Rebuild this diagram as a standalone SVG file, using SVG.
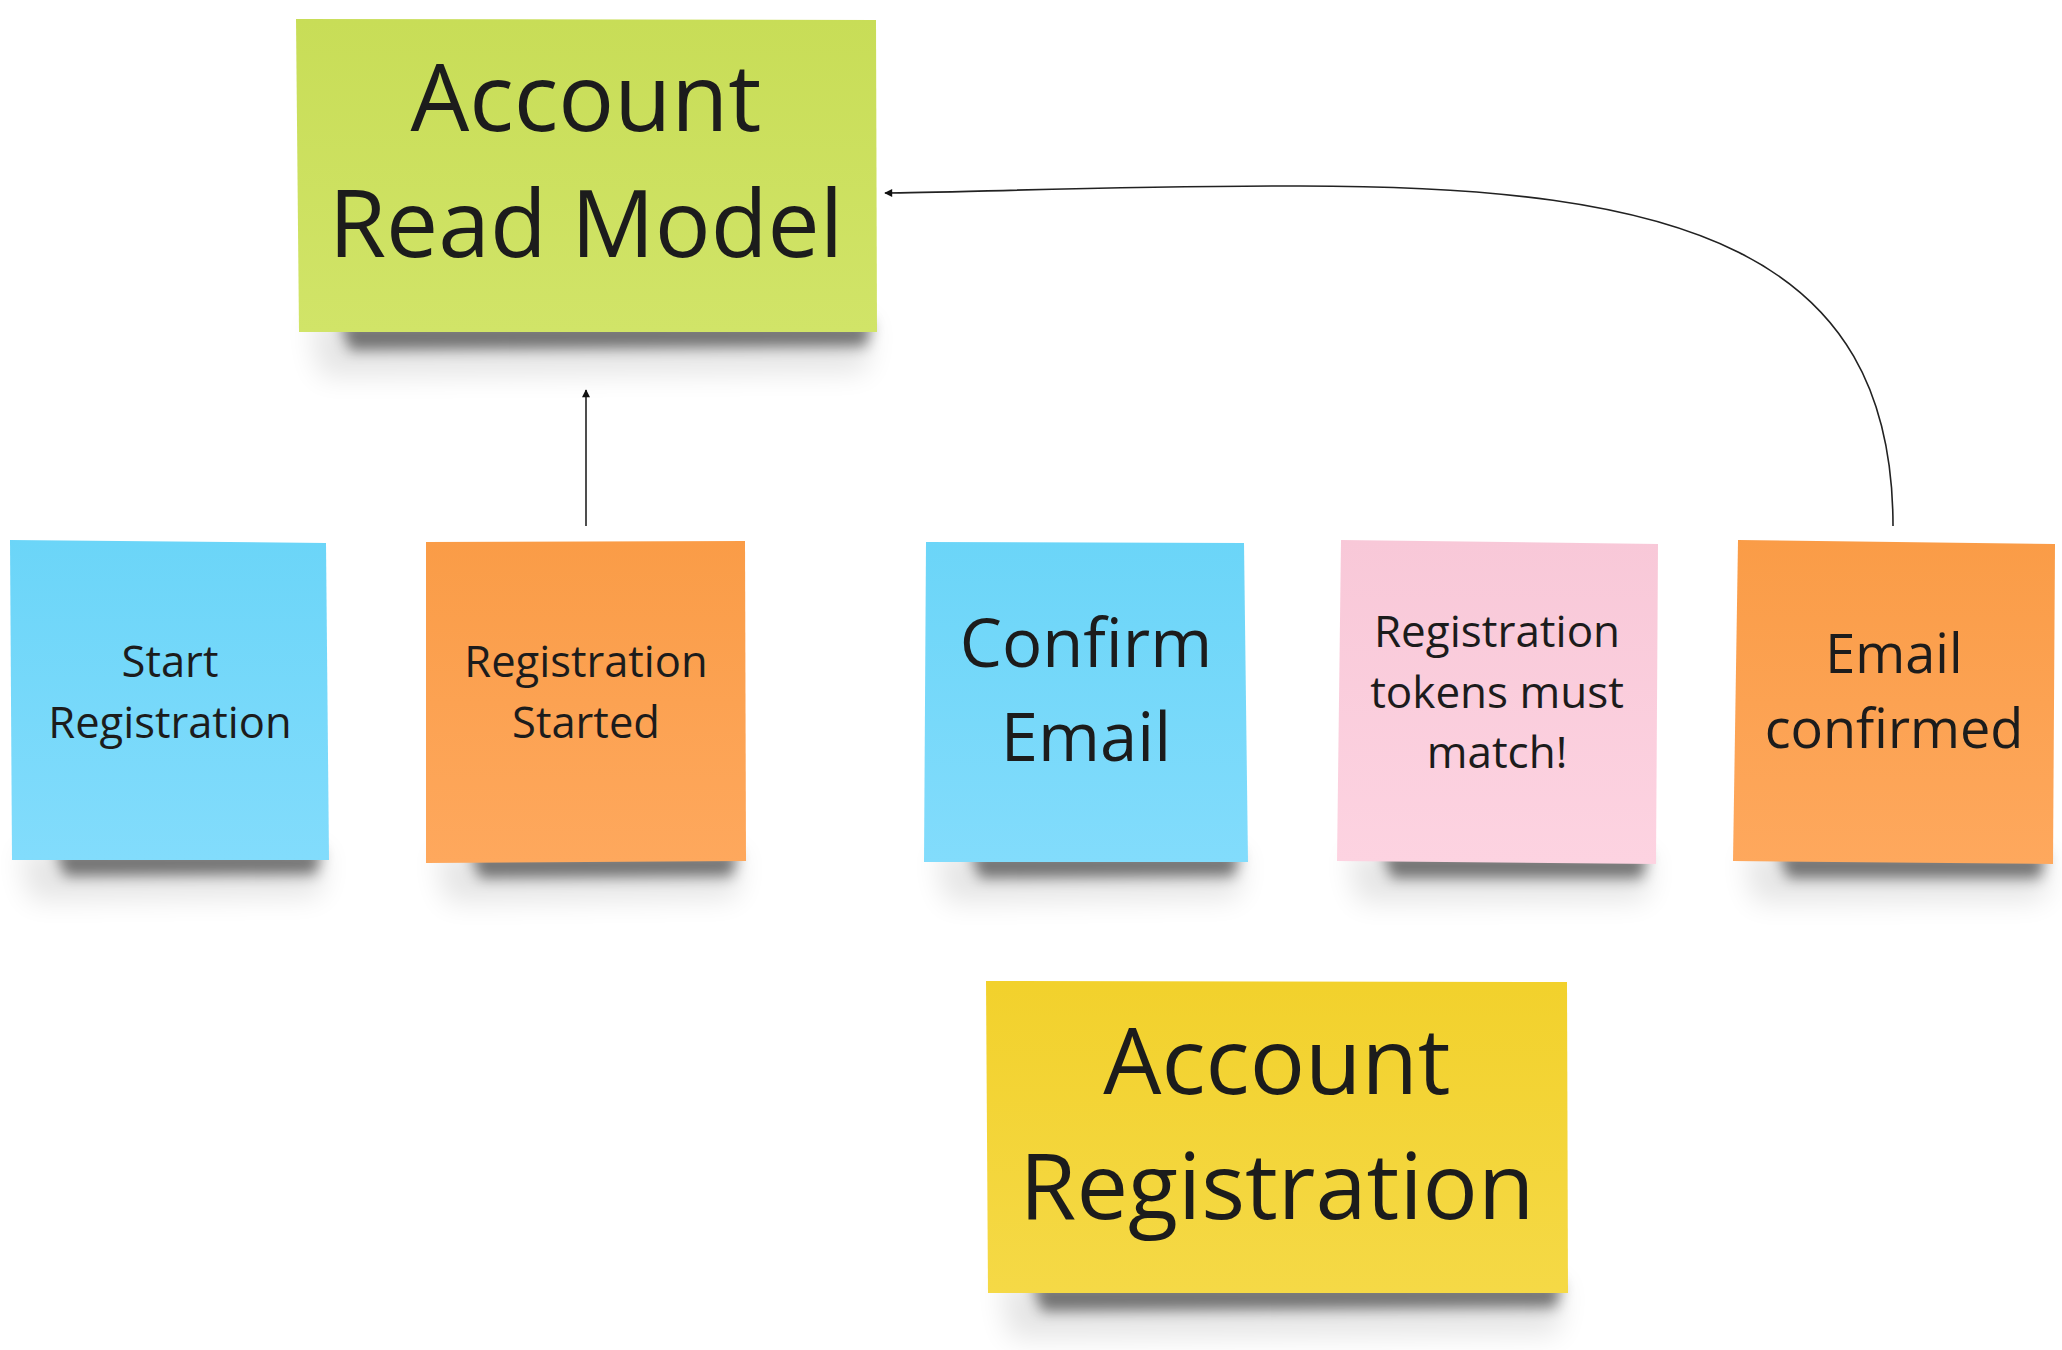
<svg xmlns="http://www.w3.org/2000/svg" width="2062" height="1350" viewBox="0 0 2062 1350">
<style>
  text { font-family: "Open Sans", "Noto Sans", "Liberation Sans", sans-serif; fill: #1c1c1c; text-anchor: middle; }
  .shadow { fill: #000; opacity: 0.5; filter: url(#blur); }
  .halo { fill: #000; opacity: 0.10; filter: url(#blur2); }
  .conn { fill: none; stroke: #222; stroke-width: 1.6; }
</style>
<defs>
  <filter id="blur" x="-20%" y="-200%" width="140%" height="500%"><feGaussianBlur stdDeviation="7"/></filter>
  <filter id="blur2" x="-20%" y="-200%" width="140%" height="500%"><feGaussianBlur stdDeviation="14"/></filter>
  <linearGradient id="gGreen" x1="0" y1="0" x2="0" y2="1"><stop offset="0" stop-color="#c8dd57"/><stop offset="1" stop-color="#d1e468"/></linearGradient>
  <linearGradient id="gYellow" x1="0" y1="0" x2="0" y2="1"><stop offset="0" stop-color="#f2d12c"/><stop offset="1" stop-color="#f5d946"/></linearGradient>
  <linearGradient id="gBlue" x1="0" y1="0" x2="0" y2="1"><stop offset="0" stop-color="#6bd5f8"/><stop offset="1" stop-color="#82dcfc"/></linearGradient>
  <linearGradient id="gOrange" x1="0" y1="0" x2="0" y2="1"><stop offset="0" stop-color="#fa9c47"/><stop offset="1" stop-color="#fea85d"/></linearGradient>
  <linearGradient id="gPink" x1="0" y1="0" x2="0" y2="1"><stop offset="0" stop-color="#f8c8d8"/><stop offset="1" stop-color="#fdd3e1"/></linearGradient>
  <marker id="arrow" viewBox="0 0 10 10" refX="9" refY="5" markerWidth="11" markerHeight="8" markerUnits="userSpaceOnUse" orient="auto">
    <path d="M0,0 L10,5 L0,10 z" fill="#111"/>
  </marker>
</defs>

<g id="read-model">
  <polygon class="halo" points="310,320 872,320 866,372 320,376"/>
  <polygon class="shadow" points="340,322 872,322 866,346 350,350"/>
  <polygon points="296,19 876,20 877,332 299,332" fill="url(#gGreen)"/>
  <text font-size="93"><tspan x="586" y="131">Account</tspan><tspan x="586" y="257">Read Model</tspan></text>
</g>

<g id="start-registration">
  <polygon class="halo" points="20,850 326,850 320,896 30,900"/>
  <polygon class="shadow" points="55,850 322,850 316,874 65,876"/>
  <polygon points="10,540 326,543 329,860 12,860" fill="url(#gBlue)"/>
  <text font-size="43.5"><tspan x="170" y="677">Start</tspan><tspan x="170" y="738">Registration</tspan></text>
</g>

<g id="registration-started">
  <polygon class="halo" points="436,852 742,852 736,898 446,902"/>
  <polygon class="shadow" points="470,852 738,852 732,876 480,878"/>
  <polygon points="426,542 745,541 746,861 426,863" fill="url(#gOrange)"/>
  <text font-size="43.5"><tspan x="586" y="677">Registration</tspan><tspan x="586" y="738">Started</tspan></text>
</g>

<g id="confirm-email">
  <polygon class="halo" points="936,852 1244,852 1238,898 946,902"/>
  <polygon class="shadow" points="970,852 1240,852 1234,876 980,878"/>
  <polygon points="926,542 1244,543 1248,862 924,862" fill="url(#gBlue)"/>
  <text font-size="67"><tspan x="1086" y="667">Confirm</tspan><tspan x="1086" y="761">Email</tspan></text>
</g>

<g id="tokens-must-match">
  <polygon class="halo" points="1348,852 1652,854 1646,900 1358,902"/>
  <polygon class="shadow" points="1382,852 1648,854 1642,878 1392,878"/>
  <polygon points="1341,540 1658,544 1656,864 1337,861" fill="url(#gPink)"/>
  <text font-size="44"><tspan x="1497" y="647">Registration</tspan><tspan x="1497" y="708">tokens must</tspan><tspan x="1497" y="768">match!</tspan></text>
</g>

<g id="email-confirmed">
  <polygon class="halo" points="1744,852 2050,854 2044,900 1754,902"/>
  <polygon class="shadow" points="1778,852 2046,854 2040,878 1788,878"/>
  <polygon points="1738,540 2055,544 2053,864 1733,861" fill="url(#gOrange)"/>
  <text font-size="54"><tspan x="1894" y="673">Email</tspan><tspan x="1894" y="748">confirmed</tspan></text>
</g>

<g id="account-registration">
  <polygon class="halo" points="1000,1282 1564,1282 1558,1334 1010,1338"/>
  <polygon class="shadow" points="1032,1283 1562,1283 1556,1307 1042,1311"/>
  <polygon points="986,981 1567,982 1568,1293 988,1293" fill="url(#gYellow)"/>
  <text font-size="92"><tspan x="1277" y="1094">Account</tspan><tspan x="1277" y="1219">Registration</tspan></text>
</g>

<g id="connectors">
  <path class="conn" d="M586,526 L586,390" marker-end="url(#arrow)"/>
  <path class="conn" d="M1893,526 C1893,250 1680,186 1300,186 C1100,186 950,193 885,193" marker-end="url(#arrow)"/>
</g>
</svg>
